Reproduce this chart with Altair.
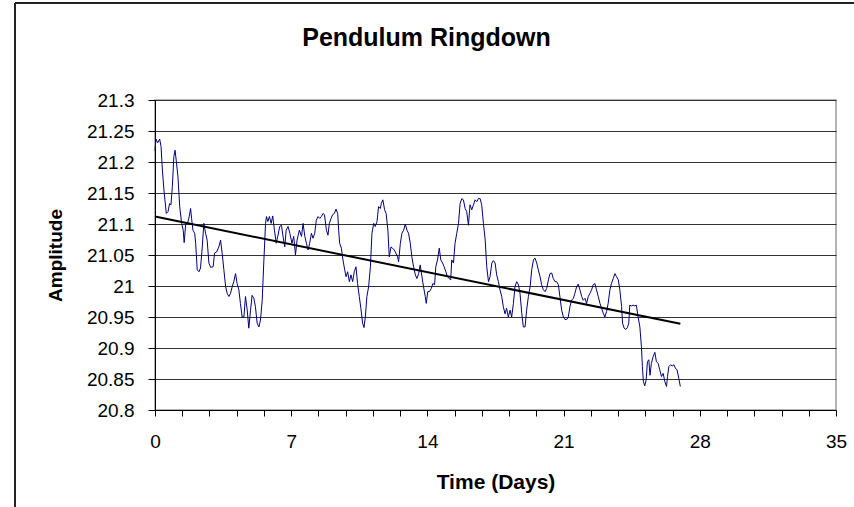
import altair as alt
import pandas as pd

days = [0.00, 0.05, 0.14, 0.24, 0.31, 0.38, 0.46, 0.58, 0.67, 0.75, 0.82, 0.89, 0.97, 1.03, 1.09, 1.18,
        1.27, 1.37, 1.45, 1.50, 1.58, 1.66, 1.74, 1.83, 1.88, 1.95, 2.04, 2.09, 2.17, 2.26, 2.34, 2.43,
        2.51, 2.60, 2.68, 2.77, 2.86, 2.99, 3.06, 3.17, 3.28, 3.37, 3.45, 3.54, 3.63, 3.71, 3.80, 3.88,
        3.97, 4.05, 4.14, 4.22, 4.31, 4.39, 4.48, 4.57, 4.65, 4.74, 4.82, 4.91, 4.99, 5.08, 5.16, 5.25,
        5.34, 5.42, 5.51, 5.59, 5.68, 5.73, 5.80, 5.88, 5.97, 6.05, 6.14, 6.23, 6.31, 6.41, 6.50, 6.58,
        6.67, 6.74, 6.84, 6.93, 7.04, 7.13, 7.22, 7.30, 7.42, 7.53, 7.61, 7.70, 7.78, 7.87, 7.95, 8.04,
        8.12, 8.21, 8.29, 8.38, 8.47, 8.55, 8.64, 8.71, 8.81, 8.89, 8.96, 9.05, 9.13, 9.22, 9.30, 9.39,
        9.44, 9.49, 9.58, 9.66, 9.75, 9.82, 9.90, 9.99, 10.07, 10.16, 10.24, 10.33, 10.41, 10.50, 10.58,
        10.67, 10.74, 10.81, 10.89, 10.98, 11.07, 11.15, 11.24, 11.32, 11.41, 11.49, 11.58, 11.63, 11.71,
        11.80, 11.88, 11.97, 12.04, 12.13, 12.21, 12.30, 12.38, 12.47, 12.52, 12.61, 12.69, 12.78, 12.86,
        12.95, 13.03, 13.12, 13.20, 13.29, 13.38, 13.46, 13.55, 13.63, 13.72, 13.80, 13.89, 13.94, 14.02,
        14.11, 14.20, 14.28, 14.37, 14.43, 14.52, 14.61, 14.69, 14.78, 14.86, 14.95, 15.03, 15.12, 15.20,
        15.25, 15.34, 15.42, 15.51, 15.60, 15.68, 15.77, 15.85, 15.94, 16.02, 16.11, 16.19, 16.28, 16.37,
        16.45, 16.54, 16.62, 16.71, 16.79, 16.88, 16.97, 17.05, 17.14, 17.22, 17.31, 17.39, 17.48, 17.56,
        17.65, 17.73, 17.82, 17.90, 17.99, 18.07, 18.16, 18.25, 18.33, 18.42, 18.50, 18.59, 18.68, 18.76,
        18.85, 18.93, 19.02, 19.10, 19.19, 19.28, 19.36, 19.45, 19.53, 19.62, 19.70, 19.79, 19.87, 19.96,
        20.05, 20.13, 20.22, 20.30, 20.39, 20.47, 20.56, 20.64, 20.73, 20.81, 20.90, 20.99, 21.07, 21.16,
        21.24, 21.33, 21.41, 21.50, 21.58, 21.67, 21.75, 21.84, 21.93, 22.01, 22.10, 22.18, 22.27, 22.35,
        22.44, 22.52, 22.61, 22.69, 22.78, 22.87, 22.95, 23.04, 23.12, 23.21, 23.29, 23.38, 23.46, 23.55,
        23.64, 23.72, 23.81, 23.89, 23.98, 24.03, 24.11, 24.20, 24.28, 24.35, 24.40, 24.49, 24.57, 24.66,
        24.74, 24.83, 24.92, 25.00, 25.05, 25.10, 25.17, 25.24, 25.31, 25.38, 25.44, 25.51, 25.60, 25.69,
        25.77, 25.86, 25.94, 26.03, 26.12, 26.20, 26.29, 26.34, 26.41, 26.50, 26.58, 26.67, 26.75, 26.83,
        26.92, 27.00]

amplitude = [21.218, 21.237, 21.231, 21.237, 21.225, 21.187, 21.155, 21.117, 21.120, 21.133, 21.131, 21.160,
             21.209, 21.219, 21.203, 21.176, 21.128, 21.101, 21.090, 21.070, 21.101, 21.100, 21.109, 21.125,
             21.109, 21.090, 21.085, 21.069, 21.026, 21.023, 21.029, 21.063, 21.101, 21.085, 21.074, 21.037,
             21.030, 21.031, 21.053, 21.055, 21.063, 21.074, 21.053, 21.026, 20.999, 20.988, 20.983, 20.988,
             20.999, 21.007, 21.020, 21.004, 20.994, 20.972, 20.950, 20.950, 20.983, 20.961, 20.932, 20.961,
             20.985, 20.980, 20.967, 20.940, 20.934, 20.945, 20.977, 21.037, 21.101, 21.112, 21.104, 21.112,
             21.101, 21.113, 21.090, 21.069, 21.080, 21.096, 21.098, 21.080, 21.063, 21.090, 21.096, 21.085,
             21.069, 21.080, 21.050, 21.074, 21.090, 21.080, 21.101, 21.080, 21.069, 21.058, 21.069, 21.085,
             21.077, 21.085, 21.106, 21.112, 21.109, 21.112, 21.117, 21.115, 21.090, 21.082, 21.101, 21.109,
             21.115, 21.117, 21.124, 21.117, 21.090, 21.069, 21.061, 21.042, 21.026, 21.015, 21.023, 21.007,
             21.018, 21.007, 21.023, 21.031, 21.004, 20.983, 20.964, 20.940, 20.933, 20.950, 20.983, 20.999,
             21.031, 21.085, 21.101, 21.096, 21.104, 21.128, 21.125, 21.133, 21.139, 21.123, 21.117, 21.090,
             21.047, 21.063, 21.061, 21.058, 21.053, 21.047, 21.039, 21.069, 21.085, 21.090, 21.100, 21.090,
             21.085, 21.069, 21.047, 21.031, 21.018, 21.012, 21.020, 21.034, 21.015, 20.999, 20.983, 20.972,
             20.991, 20.991, 20.996, 21.004, 21.002, 21.031, 21.042, 21.061, 21.042, 21.037, 21.031, 21.023,
             21.015, 21.012, 21.010, 21.042, 21.037, 21.069, 21.085, 21.101, 21.133, 21.141, 21.139, 21.125,
             21.120, 21.098, 21.131, 21.123, 21.131, 21.139, 21.136, 21.141, 21.141, 21.131, 21.101, 21.074,
             21.031, 21.007, 21.015, 21.037, 21.041, 21.037, 21.018, 21.007, 20.994, 20.983, 20.967, 20.955,
             20.964, 20.950, 20.961, 20.950, 20.972, 20.999, 21.007, 21.002, 20.988, 20.956, 20.934, 20.934,
             20.961, 20.983, 20.999, 21.026, 21.042, 21.045, 21.037, 21.026, 21.015, 21.002, 20.994, 20.991,
             20.996, 21.010, 21.020, 21.021, 21.012, 21.007, 21.007, 21.002, 20.983, 20.961, 20.950, 20.946,
             20.946, 20.950, 20.967, 20.977, 20.980, 20.988, 20.999, 21.003, 20.994, 20.983, 20.977, 20.980,
             20.972, 20.983, 20.988, 20.994, 21.002, 21.004, 20.994, 20.983, 20.972, 20.964, 20.956, 20.950,
             20.959, 20.972, 20.994, 21.004, 21.012, 21.020, 21.015, 21.010, 20.994, 20.967, 20.940, 20.932,
             20.930, 20.933, 20.940, 20.969, 20.968, 20.969, 20.968, 20.969, 20.950, 20.934, 20.902, 20.870,
             20.846, 20.839, 20.848, 20.878, 20.881, 20.856, 20.875, 20.886, 20.893, 20.878, 20.875, 20.865,
             20.854, 20.859, 20.846, 20.838, 20.854, 20.870, 20.873, 20.871, 20.873, 20.867, 20.865, 20.851,
             20.838]

trend_days = [0.0, 27.0]
trend_amp = [21.112, 20.939]

x_ticks = [round(i * 1.4, 1) for i in range(26)]
y_ticks = [round(20.8 + i * 0.05, 2) for i in range(11)]

df = pd.DataFrame({"Time": days, "Amplitude": amplitude})
tf = pd.DataFrame({"Time": trend_days, "Amplitude": trend_amp})

W, H = 681, 310
FONT = "Liberation Sans"

x_scale = alt.Scale(domain=[0, 35], nice=False, zero=False)
y_scale = alt.Scale(domain=[20.8, 21.3], nice=False, zero=False)

x_axis = alt.Axis(
    title="Time (Days)", values=x_ticks, tickCount=200, format="~g",
    labelExpr="abs(datum.value / 7 - round(datum.value / 7)) < 0.001 ? datum.label : ''",
    grid=False, tickSize=6, tickColor="black", domainColor="black", domainWidth=1,
    labelPadding=16, labelFontSize=19, labelColor="black", labelFont=FONT,
    labelOverlap=False, labelFlush=False,
    titleFontSize=21, titleFontWeight="bold", titleFont=FONT, titleColor="black",
    titleX=W / 2, titleY=72, titleBaseline="middle", titleAlign="center",
)
y_axis = alt.Axis(
    title="Amplitude", values=y_ticks, tickCount=200, format="~g",
    grid=True, gridColor="#333333", gridWidth=1,
    tickSize=7, tickColor="black", domainColor="black", domainWidth=1,
    labelPadding=14, labelFontSize=19, labelColor="black", labelFont=FONT,
    labelOverlap=False, labelFlush=False,
    titleFontSize=19, titleFontWeight="bold", titleFont=FONT, titleColor="black",
    titleX=-100, titleY=H / 2, titleAngle=270, titleBaseline="middle", titleAlign="center",
)

data_line = alt.Chart(df).mark_line(color="#000080", strokeWidth=1).encode(
    x=alt.X("Time:Q", scale=x_scale, axis=x_axis),
    y=alt.Y("Amplitude:Q", scale=y_scale, axis=y_axis),
)

trend_line = alt.Chart(tf).mark_line(color="black", strokeWidth=2).encode(
    x=alt.X("Time:Q", scale=x_scale),
    y=alt.Y("Amplitude:Q", scale=y_scale),
)

frame_src = pd.DataFrame({"k": [0]})
frame_top = alt.Chart(frame_src).mark_rule(color="#222222", strokeWidth=2).encode(
    x=alt.value(-140), x2=alt.value(W + 20), y=alt.value(-97)
)
frame_left = alt.Chart(frame_src).mark_rule(color="#222222", strokeWidth=2).encode(
    x=alt.value(-140), y=alt.value(-97), y2=alt.value(H + 100)
)

chart = alt.layer(data_line, trend_line, frame_top, frame_left).properties(
    width=W, height=H,
    title=alt.TitleParams("Pendulum Ringdown", font=FONT, fontSize=25, fontWeight="bold",
                          color="black", anchor="middle", dx=-69, offset=0,
                          baseline="alphabetic", dy=69),
    autosize=alt.AutoSizeParams(type="none"),
    padding={"left": 155, "top": 100, "right": 18, "bottom": 97},
    background="white",
).configure_view(stroke="#9a9a9a", strokeWidth=1.5)

chart.save("out.html", embed_options={"renderer": "svg", "actions": False})
